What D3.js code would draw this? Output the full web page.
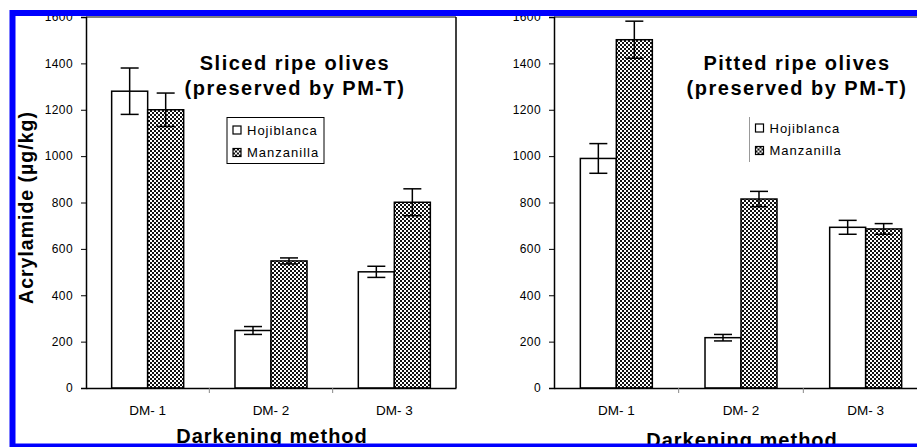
<!doctype html>
<html>
<head>
<meta charset="utf-8">
<title>Acrylamide in ripe olives</title>
<script src="https://d3js.org/d3.v7.min.js"></script>
<style>
  body { margin: 0; background: #fff; }
  text { font-family: Arial, "Liberation Sans", sans-serif; fill: #000; }
</style>
</head>
<body>
<script>
// values
var categories = ["DM- 1", "DM- 2", "DM- 3"];
var seriesNames = ["Hojiblanca", "Manzanilla"];
var yTicks = [0, 200, 400, 600, 800, 1000, 1200, 1400, 1600];

var slicedHoji = [1280, 248, 501];
var slicedHojiErr = [100, 17, 24];
var slicedManz = [1200, 548, 801];
var slicedManzErr = [72, 13, 58];

var pittedHoji = [990, 217, 693];
var pittedHojiErr = [64, 14, 30];
var pittedManz = [1502, 815, 686];
var pittedManzErr = [80, 33, 23];

var svg = d3.select("body").append("svg").attr("width", 917).attr("height", 447);

var defs = svg.append("defs");
var pat = defs.append("pattern").attr("id", "checks").attr("patternUnits", "userSpaceOnUse")
    .attr("width", 4).attr("height", 4);
pat.append("rect").attr("width", 4).attr("height", 4).attr("fill", "#fff");
pat.append("rect").attr("width", 2).attr("height", 2).attr("fill", "#111");
pat.append("rect").attr("x", 2).attr("y", 2).attr("width", 2).attr("height", 2).attr("fill", "#111");

var y = d3.scaleLinear().domain([0, 1600]).range([388, 17]);

function panel(opt) {
    var g = svg.append("g");
    var x0 = d3.scaleBand().domain(categories).range([opt.left, opt.right])
        .paddingInner(opt.pad).paddingOuter(opt.pad / 2);
    var x1 = d3.scaleBand().domain(seriesNames).range([0, x0.bandwidth()]);

    var rows = [];
    categories.forEach(function (c, i) {
        rows.push({ cat: c, s: seriesNames[0], v: opt.hoji[i], e: opt.hojiErr[i] });
        rows.push({ cat: c, s: seriesNames[1], v: opt.manz[i], e: opt.manzErr[i] });
    });

    // frame
    g.append("line").attr("x1", opt.left).attr("x2", opt.right).attr("y1", 17).attr("y2", 17)
        .attr("stroke", "#000").attr("stroke-width", 1.2);
    g.append("line").attr("x1", opt.right).attr("x2", opt.right).attr("y1", 17).attr("y2", 388)
        .attr("stroke", "#000").attr("stroke-width", 1.5);

    // y axis
    var ya = g.append("g").attr("transform", "translate(" + opt.left + ",0)")
        .call(d3.axisLeft(y).tickValues(yTicks).tickSize(5).tickPadding(8).tickFormat(d3.format("d")));
    ya.select(".domain").attr("stroke-width", 1.5);
    ya.selectAll("text").style("font-size", "12px").style("letter-spacing", "0.4px")
        .attr("font-family", null);

    // bars
    g.selectAll("rect.bar").data(rows).enter().append("rect").attr("class", "bar")
        .attr("x", function (d) { return x0(d.cat) + x1(d.s); })
        .attr("y", function (d) { return y(d.v); })
        .attr("width", x1.bandwidth())
        .attr("height", function (d) { return y(0) - y(d.v); })
        .attr("fill", function (d) { return d.s == seriesNames[0] ? "#fff" : "url(#checks)"; })
        .attr("stroke", "#000").attr("stroke-width", 1.5);

    // error bars
    var eb = g.selectAll("g.err").data(rows).enter().append("g").attr("class", "err")
        .attr("transform", function (d) { return "translate(" + (x0(d.cat) + x1(d.s) + x1.bandwidth() / 2) + ",0)"; });
    eb.append("line").attr("y1", function (d) { return y(d.v + d.e); }).attr("y2", function (d) { return y(d.v - d.e); })
        .attr("stroke", "#000").attr("stroke-width", 1.5);
    eb.append("line").attr("x1", -9).attr("x2", 9)
        .attr("y1", function (d) { return y(d.v + d.e); }).attr("y2", function (d) { return y(d.v + d.e); })
        .attr("stroke", "#000").attr("stroke-width", 1.5);
    eb.append("line").attr("x1", -9).attr("x2", 9)
        .attr("y1", function (d) { return y(d.v - d.e); }).attr("y2", function (d) { return y(d.v - d.e); })
        .attr("stroke", "#000").attr("stroke-width", 1.5);

    // x axis
    var xa = g.append("g").attr("transform", "translate(0,388)")
        .call(d3.axisBottom(x0).tickSize(0).tickPadding(17));
    xa.select(".domain").attr("stroke-width", 1.5);
    xa.selectAll("text").style("font-size", "13.5px").attr("font-family", null);
    // small ticks between categories
    var step = x0.step();
    g.selectAll("line.sep").data([1, 2]).enter().append("line").attr("class", "sep")
        .attr("x1", function (d) { return opt.left + d * step; })
        .attr("x2", function (d) { return opt.left + d * step; })
        .attr("y1", 388).attr("y2", 393).attr("stroke", "#888").attr("stroke-width", 1);

    // title
    var t = g.append("text").attr("text-anchor", "middle").style("font-weight", "bold")
        .style("font-size", "20px").style("letter-spacing", "1.5px");
    t.append("tspan").attr("x", opt.titleX).attr("y", 70).text(opt.title);
    t.append("tspan").attr("x", opt.titleX).attr("y", 95).text("(preserved by PM-T)");

    // legend
    if (opt.legendBox) {
        g.append("rect").attr("x", opt.legX).attr("y", 117.5).attr("width", 97).attr("height", 46)
            .attr("fill", "#fff").attr("stroke", "#000").attr("stroke-width", 1);
    } else {
        g.append("line").attr("x1", opt.legX).attr("x2", opt.legX).attr("y1", 117).attr("y2", 162)
            .attr("stroke", "#999").attr("stroke-width", 1);
    }
    var li = g.selectAll("g.leg").data(seriesNames).enter().append("g").attr("class", "leg")
        .attr("transform", function (d, i) { return "translate(" + (opt.legX + 6) + "," + (opt.legY + i * 22.5) + ")"; });
    li.append("rect").attr("x", 0).attr("y", -4).attr("width", 8).attr("height", 8)
        .attr("fill", function (d, i) { return i == 0 ? "#fff" : "url(#checks)"; })
        .attr("stroke", "#000").attr("stroke-width", 1.2);
    li.append("text").attr("x", 14).attr("y", 4.5).style("font-size", "13px").style("letter-spacing", "1px")
        .text(function (d) { return d; });

    // axis title
    g.append("text").attr("x", opt.xTitleX).attr("y", opt.xTitleY).attr("text-anchor", "middle")
        .style("font-weight", "bold").style("font-size", "20px").style("letter-spacing", "1px")
        .text("Darkening method");
}

panel({ left: 86, right: 456, pad: 0.416, hoji: slicedHoji, hojiErr: slicedHojiErr,
        manz: slicedManz, manzErr: slicedManzErr, title: "Sliced ripe olives", titleX: 295,
        legendBox: true, legX: 227, legY: 130, xTitleX: 272, xTitleY: 443 });
panel({ left: 554, right: 928, pad: 0.4226, hoji: pittedHoji, hojiErr: pittedHojiErr,
        manz: pittedManz, manzErr: pittedManzErr, title: "Pitted ripe olives", titleX: 797,
        legendBox: false, legX: 749.5, legY: 128, xTitleX: 742, xTitleY: 446.5 });

// y axis title (left panel only)
svg.append("text").attr("transform", "translate(33,207.5) rotate(-90)").attr("text-anchor", "middle")
    .style("font-weight", "bold").style("font-size", "19.5px").style("letter-spacing", "1px")
    .text("Acrylamide (µg/kg)");

// blue frame
svg.append("rect").attr("x", 12.5).attr("y", 13).attr("width", 1000).attr("height", 433.5)
    .attr("fill", "none").attr("stroke", "#0000ff").attr("stroke-width", 6);
</script>
</body>
</html>
